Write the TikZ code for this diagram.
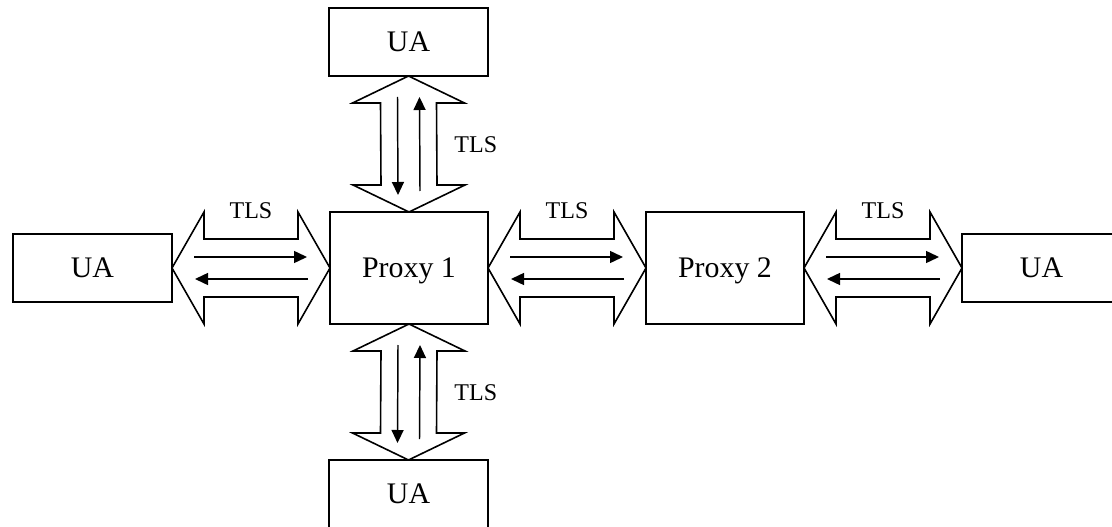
\documentclass[tikz,border=0pt]{standalone}
\usepackage{fontspec}
\setmainfont{Liberation Serif}
\usetikzlibrary{calc,arrows.meta}

% hollow double arrow between two tip points, horizontal
\newcommand\hollowH[2]{%
  \draw[hollow] (#1) -- ($(#1)+(32,-56)$) -- ($(#1)+(32,-29)$)
    -- ($(#2)+(-32,-29)$) -- ($(#2)+(-32,-56)$) -- (#2)
    -- ($(#2)+(-32,56)$) -- ($(#2)+(-32,29)$)
    -- ($(#1)+(32,29)$) -- ($(#1)+(32,56)$) -- cycle;
  \draw[flow] ($(#1)+(22,-11)$) -- ($(#2)+(-23,-11)$);
  \draw[flow] ($(#2)+(-22,11)$) -- ($(#1)+(23,11)$);
}
% hollow double arrow between two tip points, vertical
\newcommand\hollowV[2]{%
  \draw[hollow] (#1) -- ($(#1)+(56,27)$) -- ($(#1)+(28,27)$)
    -- ($(#2)+(28,-27)$) -- ($(#2)+(56,-27)$) -- (#2)
    -- ($(#2)+(-56,-27)$) -- ($(#2)+(-28,-27)$)
    -- ($(#1)+(-28,27)$) -- ($(#1)+(-56,27)$) -- cycle;
  \draw[flow] ($(#1)+(-11,21)$) -- ($(#2)+(-11,-17)$);
  \draw[flow] ($(#2)+(11,-21)$) -- ($(#1)+(11,21)$);
}

\begin{document}
\begin{tikzpicture}[x=0.75pt,y=-0.75pt,
  box/.style={draw,line width=1.2pt,inner sep=0pt,outer sep=0pt,
    text depth=0pt,font=\fontsize{22.4}{26}\selectfont},
  ua/.style={box,minimum width=119.25pt,minimum height=51pt},
  proxy/.style={box,minimum width=118.5pt,minimum height=84pt},
  hollow/.style={draw,line width=1.2pt,line join=miter},
  flow/.style={line width=1.1pt,-{Triangle[length=9.75pt,width=9pt]}},
  tls/.style={inner sep=0pt,font=\fontsize{18}{21}\selectfont}]
  \clip (0,0) rectangle (1112,527);

  \node[proxy] (p1) at (409,268) {Proxy 1};
  \node[proxy] (p2) at (725,268) {Proxy 2};
  \node[ua] (uaT) at (408.5,42) {UA};
  \node[ua] (uaB) at (408.5,494) {UA};
  \node[ua] (uaL) at (92.5,268) {UA};
  \node[ua] (uaR) at (1041.5,268) {UA};

  \hollowH{uaL.east}{p1.west}
  \hollowH{p1.east}{p2.west}
  \hollowH{p2.east}{uaR.west}
  \hollowV{uaT.south}{p1.north}
  \hollowV{p1.south}{uaB.north}

  \node[tls] (tL) at ($(uaL.east)!.5!(p1.west)+(0,-57)$) {TLS};
  \node[tls] (tM) at ($(p1.east)!.5!(p2.west)+(0,-57)$) {TLS};
  \node[tls] (tR) at ($(p2.east)!.5!(uaR.west)+(0,-57)$) {TLS};
  \node[tls] (tT) at ($(uaT.south)!.5!(p1.north)+(67,1)$) {TLS};
  \node[tls] (tB) at ($(p1.south)!.5!(uaB.north)+(67,1)$) {TLS};
\end{tikzpicture}
\end{document}
